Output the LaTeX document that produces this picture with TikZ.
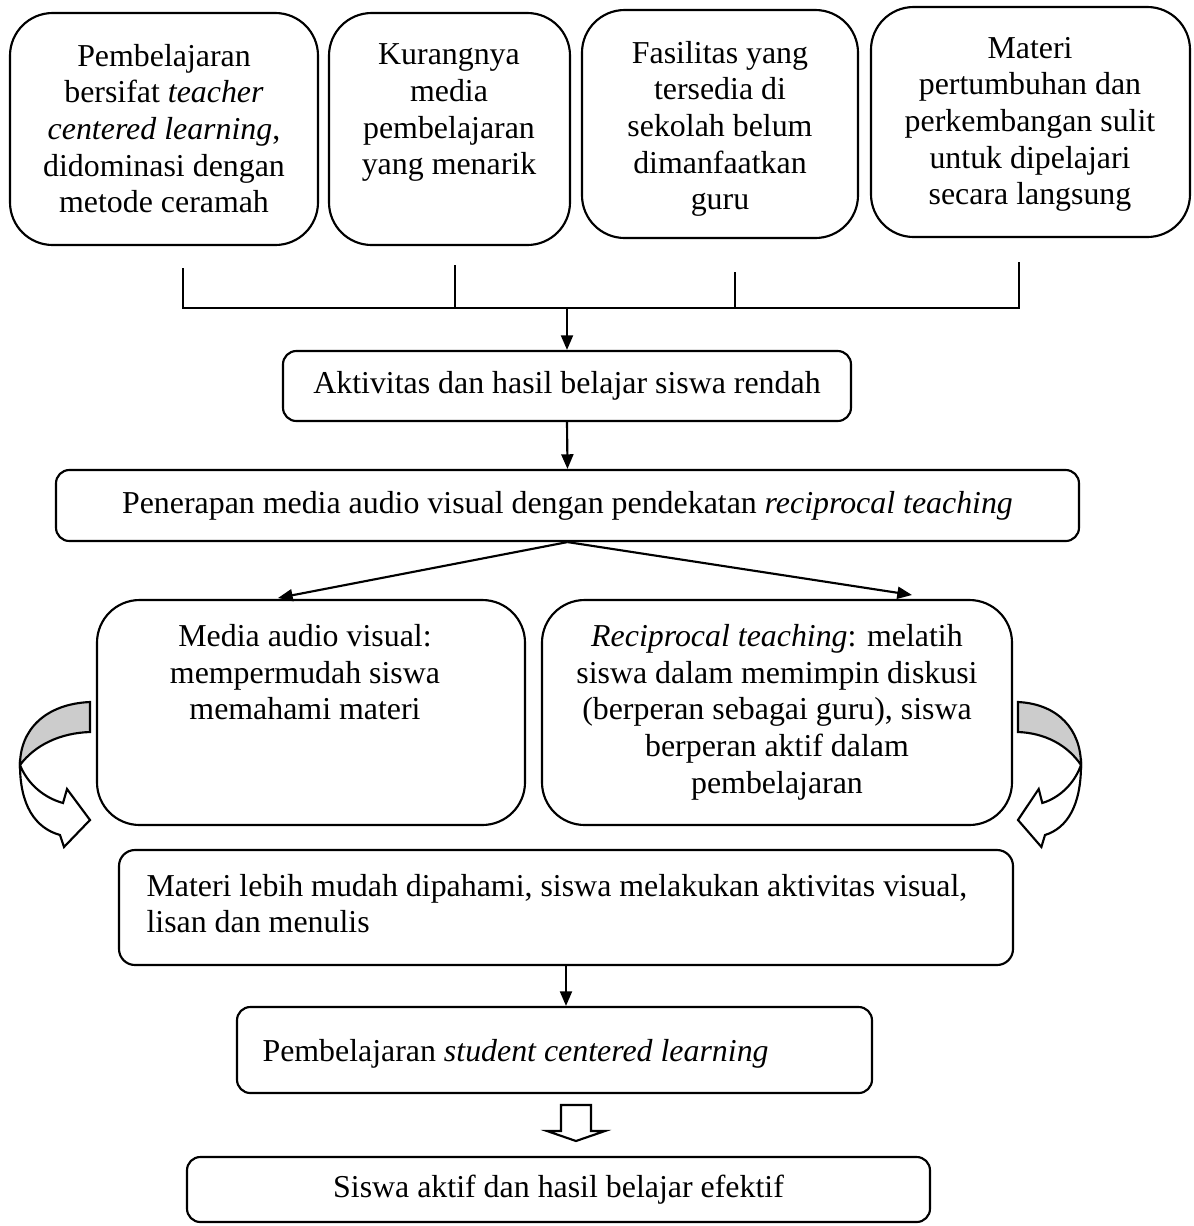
\documentclass[tikz,border=0pt]{standalone}
\usepackage{fontspec}
\setmainfont{Liberation Serif}
\usetikzlibrary{arrows.meta,fit}

\tikzset{
  garis/.style={line width=0.8bp},
  kotak/.style={draw, line width=0.8bp, inner sep=0pt},
  bulat/.style={kotak, rounded corners=16bp},
  tumpul/.style={kotak, rounded corners=5bp},
  teks/.style={inner sep=0pt, align=center, font=\fontsize{12}{13.8}\selectfont},
  panah/.style={line width=0.8bp, -{Triangle[length=5.5bp,width=4.5bp]}},
}

\begin{document}
\begin{tikzpicture}[x=0.375bp, y=-0.375bp]
\useasboundingbox (0,0) rectangle (1194,1226);

% masalah di baris atas
\node[bulat, fit={(10,13) (318,245)}] (m1) {};
\node[teks, anchor=north] (tm1) at (164,43.5) {Pembelajaran\\ bersifat \textit{teacher}\\ \textit{centered learning},\\ didominasi dengan\\ metode ceramah};
\node[bulat, fit={(329,13) (570,245)}] (m2) {};
\node[teks, anchor=north] (tm2) at (449,43.5) {Kurangnya\\ media\\ pembelajaran\\ yang menarik};
\node[bulat, fit={(582,10) (858,238)}] (m3) {};
\node[teks, anchor=north] (tm3) at (720,40.5) {Fasilitas yang\\ tersedia di\\ sekolah belum\\ dimanfaatkan\\ guru};
\node[bulat, fit={(871,7) (1190,237)}] (m4) {};
\node[teks, anchor=north] (tm4) at (1030,36.5) {Materi\\ pertumbuhan dan\\ perkembangan sulit\\ untuk dipelajari\\ secara langsung};

% garis penghubung
\coordinate (k1) at (183,268);
\coordinate (k2) at (455,265);
\coordinate (k3) at (735,272);
\coordinate (k4) at (1019,262);
\coordinate (j1) at (183,308);
\coordinate (j4) at (1019,308);
\coordinate (jm) at (567,308);
\draw[garis] (k1) -- (j1) -- (j4) -- (k4);
\draw[garis] (k2) -- (k2 |- j1);
\draw[garis] (k3) -- (k3 |- j1);

% kondisi awal dan tindakan
\node[tumpul, fit={(283,351) (851,421)}] (akt) {};
\node[teks] (takt) at (akt) {Aktivitas dan hasil belajar siswa rendah};
\node[tumpul, fit={(56,470) (1079,541)}] (pen) {};
\node[teks] (tpen) at (pen) {Penerapan media audio visual dengan pendekatan \textit{reciprocal teaching}};
\draw[panah] (jm) -- (jm |- akt.north);
\draw[panah] (akt.south) -- (pen.north);

% dua cabang
\node[bulat, fit={(97,600) (525,825)}] (med) {};
\node[teks, anchor=north] (tmed) at (305,624) {Media audio visual:\\ mempermudah siswa\\ memahami materi};
\node[bulat, fit={(542,600) (1012,825)}] (rec) {};
\node[teks, anchor=north] (trec) at (777,624) {\textit{Reciprocal teaching}: melatih\\ siswa dalam memimpin diskusi\\ (berperan sebagai guru), siswa\\ berperan aktif dalam\\ pembelajaran};
\coordinate (am) at (278,598);
\coordinate (ar) at (912,595);
\draw[panah] (pen.south) -- (am);
\draw[panah] (pen.south) -- (ar);

% panah lengkung kiri
\filldraw[garis, fill=gray!40] (90,702) .. controls (45,704) and (20,730) .. (20,765)
  .. controls (35,745) and (60,733) .. (90,732) -- cycle;
\filldraw[garis, fill=white] (20,765) .. controls (28,785) and (45,798) .. (63,803)
  -- (67,789) -- (90,820) -- (64,847) -- (60,835)
  .. controls (35,828) and (20,805) .. (20,765) -- cycle;

% panah lengkung kanan
\begin{scope}[shift={(1099,0)}, xscale=-0.9]
\filldraw[garis, fill=gray!40] (90,702) .. controls (45,704) and (20,730) .. (20,765)
  .. controls (35,745) and (60,733) .. (90,732) -- cycle;
\filldraw[garis, fill=white] (20,765) .. controls (28,785) and (45,798) .. (63,803)
  -- (67,789) -- (90,820) -- (64,847) -- (60,835)
  .. controls (35,828) and (20,805) .. (20,765) -- cycle;
\end{scope}

% hasil
\node[kotak, rounded corners=6bp, fit={(119,850) (1013,965)}] (mat) {};
\node[teks, align=left, anchor=north west] (tmat) at (146,873.5) {Materi lebih mudah dipahami, siswa melakukan aktivitas visual,\\ lisan dan menulis};
\node[tumpul, fit={(237,1007) (872,1093)}] (scl) {};
\node[teks, anchor=north west] (tscl) at (262,1038.5) {Pembelajaran \textit{student centered learning}};
\draw[panah] (mat.south) -- (mat.south |- scl.north);

% panah blok ke bawah
\draw[garis] (561,1105) -- (591,1105) -- (591,1131) -- (605,1131) -- (576,1141)
  -- (547,1131) -- (561,1131) -- cycle;

\node[tumpul, fit={(187,1157) (930,1222)}] (akhir) {};
\node[teks] (takhir) at (akhir) {Siswa aktif dan hasil belajar efektif};
\end{tikzpicture}
\end{document}
